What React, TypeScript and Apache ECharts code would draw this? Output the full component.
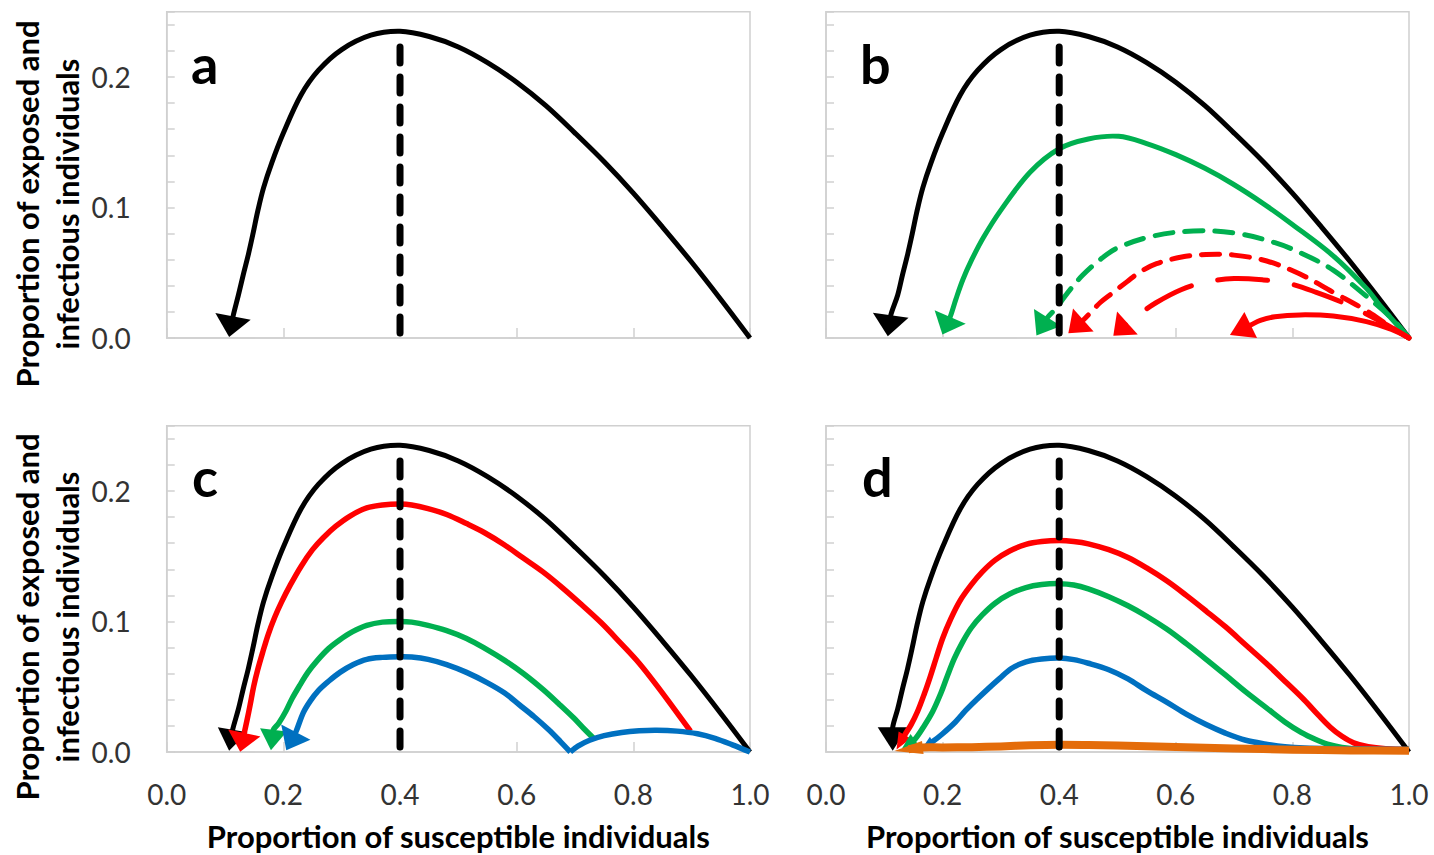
import React, { useEffect, useRef } from 'react';
import * as echarts from 'echarts';

type Pt = [number, number];

// ---------- data (S = proportion susceptible, E+I = proportion exposed+infectious) ----------
const panelLetters = ['a', 'b', 'c', 'd'];
const thresholdLine: Pt[] = [[0.4, 0.223], [0.4, -0.002]];

// baseline epidemic body (shared); each panel adds its own [arrow base, arrow tip]
const blackBody: Pt[] = [[1.0, 0], [0.95, 0.0295], [0.9, 0.058], [0.85, 0.085], [0.8, 0.111], [0.75, 0.135], [0.7, 0.157], [0.65, 0.178], [0.6, 0.196], [0.55, 0.211], [0.5, 0.223], [0.45, 0.231], [0.4, 0.235], [0.35, 0.232], [0.3, 0.221], [0.26, 0.205], [0.23, 0.186], [0.2, 0.157], [0.18, 0.134], [0.166, 0.115], [0.156, 0.097], [0.148, 0.08], [0.14, 0.064], [0.131, 0.048], [0.123, 0.033]];
const blackEndA: Pt[] = [[0.1137, 0.0165], [0.107, 0.0008]];
const blackEndB: Pt[] = [[0.111, 0.0174], [0.106, 0.0013]];
const blackEndC: Pt[] = [[0.113, 0.017], [0.107, 0.001]];
const blackEndD: Pt[] = [[0.1144, 0.0189], [0.1144, 0.001]];

// panel b
const greenSolidB: Pt[] = [[1.0, 0], [0.95, 0.025], [0.927, 0.038], [0.87, 0.063], [0.8, 0.087], [0.75, 0.103], [0.698, 0.118], [0.65, 0.13], [0.6, 0.1405], [0.55, 0.149], [0.502, 0.1545], [0.45, 0.1525], [0.4, 0.145], [0.35, 0.127], [0.3, 0.098], [0.27, 0.077], [0.25, 0.06], [0.235, 0.045], [0.223, 0.03], [0.213, 0.0161], [0.1997, 0.0026]];
const greenDashB: Pt[] = [[1.0, 0], [0.973, 0.014], [0.927, 0.032], [0.87, 0.052], [0.82, 0.064], [0.77, 0.073], [0.7, 0.0805], [0.63, 0.082], [0.56, 0.078], [0.5, 0.069], [0.47, 0.06], [0.44, 0.048], [0.415, 0.035], [0.395, 0.023], [0.38, 0.0157], [0.361, 0.002]];
const redDashB: Pt[] = [[1.0, 0], [0.967, 0.009], [0.927, 0.021], [0.87, 0.035], [0.813, 0.049], [0.756, 0.059], [0.7, 0.0635], [0.652, 0.064], [0.61, 0.062], [0.567, 0.057], [0.54, 0.051], [0.516, 0.043], [0.49, 0.034], [0.47, 0.027], [0.455, 0.02], [0.4414, 0.0138], [0.4157, 0.0036]];
const redLongDashB: Pt[] = [[1.0, 0], [0.95, 0.013], [0.887, 0.027], [0.841, 0.035], [0.792, 0.042], [0.75, 0.0445], [0.7, 0.0455], [0.652, 0.043], [0.609, 0.037], [0.566, 0.027], [0.535, 0.0175], [0.517, 0.0115], [0.4928, 0.0018]];
const redSolidB: Pt[] = [[1.0, 0], [0.97, 0.0065], [0.927, 0.0125], [0.87, 0.0168], [0.813, 0.0177], [0.77, 0.0163], [0.745, 0.0135], [0.7285, 0.01], [0.6929, 0.0023]];

// panel c
const redC: Pt[] = [[0.898, 0.016], [0.87, 0.033], [0.84, 0.051], [0.81, 0.068], [0.777, 0.084], [0.745, 0.099], [0.711, 0.113], [0.678, 0.126], [0.645, 0.138], [0.61, 0.149], [0.578, 0.159], [0.545, 0.168], [0.514, 0.175], [0.48, 0.182], [0.448, 0.1865], [0.42, 0.1893], [0.4, 0.19], [0.37, 0.1893], [0.343, 0.187], [0.315, 0.181], [0.29, 0.173], [0.268, 0.164], [0.25, 0.155], [0.23, 0.142], [0.212, 0.128], [0.197, 0.115], [0.185, 0.103], [0.174, 0.09], [0.165, 0.077], [0.156, 0.063], [0.149, 0.05], [0.143, 0.036], [0.138, 0.025], [0.133, 0.0146], [0.126, 0.0002]];
const greenC: Pt[] = [[0.733, 0.01], [0.715, 0.018], [0.698, 0.026], [0.672, 0.037], [0.645, 0.048], [0.612, 0.06], [0.58, 0.07], [0.547, 0.079], [0.514, 0.087], [0.48, 0.093], [0.448, 0.097], [0.42, 0.0995], [0.4, 0.1], [0.37, 0.0995], [0.343, 0.097], [0.318, 0.092], [0.297, 0.086], [0.277, 0.079], [0.258, 0.07], [0.242, 0.061], [0.228, 0.051], [0.215, 0.041], [0.204, 0.031], [0.192, 0.022], [0.183, 0.017], [0.1787, 0.0013]];
const blueBumpC: Pt[] = [[1.0, 0.0], [0.97, 0.0055], [0.94, 0.0105], [0.91, 0.014], [0.875, 0.016], [0.84, 0.0167], [0.81, 0.0163], [0.78, 0.015], [0.75, 0.0125], [0.725, 0.009], [0.705, 0.0045], [0.692, 0.0]];
const blueC: Pt[] = [[0.692, 0.0], [0.675, 0.008], [0.655, 0.017], [0.63, 0.027], [0.605, 0.036], [0.58, 0.045], [0.55, 0.053], [0.514, 0.061], [0.48, 0.067], [0.448, 0.071], [0.42, 0.0728], [0.4, 0.073], [0.37, 0.0725], [0.343, 0.071], [0.32, 0.067], [0.297, 0.061], [0.277, 0.054], [0.26, 0.047], [0.246, 0.039], [0.234, 0.03], [0.2214, 0.0153], [0.205, 0.0013]];

// panel d
const redD: Pt[] = [[1.0, 0.002], [0.96, 0.0025], [0.93, 0.004], [0.905, 0.007], [0.885, 0.012], [0.865, 0.019], [0.845, 0.028], [0.82, 0.04], [0.79, 0.053], [0.755, 0.068], [0.72, 0.082], [0.685, 0.096], [0.652, 0.108], [0.618, 0.12], [0.585, 0.131], [0.55, 0.141], [0.518, 0.149], [0.485, 0.155], [0.45, 0.1595], [0.425, 0.1613], [0.4, 0.162], [0.37, 0.1612], [0.343, 0.159], [0.315, 0.154], [0.29, 0.147], [0.268, 0.138], [0.249, 0.128], [0.23, 0.116], [0.214, 0.102], [0.2, 0.087], [0.189, 0.072], [0.179, 0.058], [0.169, 0.045], [0.157, 0.031], [0.146, 0.021], [0.135, 0.013], [0.121, 0.002]];
const greenD: Pt[] = [[1.0, 0.002], [0.92, 0.002], [0.885, 0.0035], [0.86, 0.006], [0.84, 0.0095], [0.815, 0.015], [0.787, 0.023], [0.755, 0.034], [0.72, 0.046], [0.685, 0.059], [0.652, 0.071], [0.618, 0.083], [0.585, 0.094], [0.55, 0.104], [0.518, 0.112], [0.485, 0.119], [0.45, 0.125], [0.425, 0.128], [0.4, 0.129], [0.37, 0.1283], [0.343, 0.126], [0.315, 0.121], [0.29, 0.114], [0.268, 0.105], [0.249, 0.095], [0.234, 0.084], [0.22, 0.0715], [0.208, 0.058], [0.197, 0.045], [0.183, 0.031], [0.167, 0.019], [0.152, 0.0095], [0.13, 0.0025]];
const blueD: Pt[] = [[1.0, 0.002], [0.88, 0.0025], [0.82, 0.003], [0.787, 0.004], [0.755, 0.006], [0.72, 0.009], [0.685, 0.0145], [0.652, 0.021], [0.618, 0.029], [0.585, 0.038], [0.55, 0.047], [0.518, 0.056], [0.485, 0.063], [0.45, 0.068], [0.425, 0.0708], [0.4, 0.072], [0.37, 0.0712], [0.343, 0.069], [0.318, 0.064], [0.297, 0.056], [0.277, 0.048], [0.258, 0.04], [0.24, 0.032], [0.222, 0.023], [0.2, 0.014], [0.183, 0.008], [0.166, 0.0036]];
const orangeD: Pt[] = [[1.0, 0.001], [0.9, 0.0012], [0.8, 0.0018], [0.7, 0.0027], [0.6, 0.0038], [0.5, 0.0049], [0.45, 0.0053], [0.4, 0.0055], [0.35, 0.0051], [0.3, 0.0043], [0.25, 0.0037], [0.2, 0.0035], [0.166, 0.0035], [0.117, 0.0008]];

// ---------- styling ----------
const C = { black: '#000000', red: '#FF0000', green: '#00B050', blue: '#0070C0', orange: '#E46C0A' };
const AXIS_GRAY = '#d0d0d0';
const FONT = 'Lato';
const Y_MAX = 0.25;

const GRIDS = [
  { left: 166.7, top: 11.7, width: 583.3, height: 326.3 },
  { left: 826, top: 11.7, width: 583, height: 326.3 },
  { left: 166.7, top: 425.7, width: 583.3, height: 326.3 },
  { left: 826, top: 425.7, width: 583, height: 326.3 },
];

// curve: when headW is given, the data ends with [arrow base, arrow tip]
type Curve = { data: Pt[]; color: string; width: number; dash?: number[]; headW?: number };

const SHORT_DASH = [18, 12];
const LONG_DASH = [50, 27];

const PANELS: Curve[][] = [
  [{ data: blackBody.concat(blackEndA), color: C.black, width: 5, headW: 36 }],
  [
    { data: blackBody.concat(blackEndB), color: C.black, width: 5, headW: 36 },
    { data: greenSolidB, color: C.green, width: 5, headW: 34 },
    { data: greenDashB, color: C.green, width: 5, dash: SHORT_DASH, headW: 32 },
    { data: redDashB, color: C.red, width: 5, dash: SHORT_DASH, headW: 31 },
    { data: redLongDashB, color: C.red, width: 5, dash: LONG_DASH, headW: 31 },
    { data: redSolidB, color: C.red, width: 5, headW: 29 },
  ],
  [
    { data: blackBody.concat(blackEndC), color: C.black, width: 5, headW: 30 },
    { data: redC, color: C.red, width: 5.5, headW: 33 },
    { data: greenC, color: C.green, width: 5.5, headW: 27 },
    { data: blueBumpC, color: C.blue, width: 5.5 },
    { data: blueC, color: C.blue, width: 5.5, headW: 33 },
  ],
  [
    { data: blackBody.concat(blackEndD), color: C.black, width: 5, headW: 30 },
    { data: redD, color: C.red, width: 5.5, headW: 14 },
    { data: greenD, color: C.green, width: 5.5, headW: 14 },
    { data: blueD, color: C.blue, width: 5.5, headW: 11 },
    { data: orangeD, color: C.orange, width: 8, headW: 13 },
  ],
];

function curveSeries(c: Curve, p: number, z: number) {
  const data = c.data;
  return {
    type: 'custom',
    xAxisIndex: p,
    yAxisIndex: p,
    silent: true,
    z,
    data,
    renderItem: (params: any, api: any) => {
      if (params.dataIndex !== 0) return null;
      let linePts: Pt[] = data;
      const children: any[] = [];
      if (c.headW) {
        const tip = data[data.length - 1];
        const base = data[data.length - 2];
        const mid: Pt = [(tip[0] + base[0]) / 2, (tip[1] + base[1]) / 2];
        linePts = data.slice(0, -1).concat([mid]);
        const t = api.coord(tip);
        const b = api.coord(base);
        const dx = t[0] - b[0];
        const dy = t[1] - b[1];
        const L = Math.hypot(dx, dy) || 1;
        const nx = -dy / L;
        const ny = dx / L;
        const hw = c.headW / 2;
        children.push({
          type: 'polygon',
          z2: 2,
          shape: {
            points: [
              [t[0], t[1]],
              [b[0] + nx * hw, b[1] + ny * hw],
              [b[0] - nx * hw, b[1] - ny * hw],
            ],
          },
          style: { fill: c.color, stroke: null },
        });
      }
      const px = linePts.map((d) => api.coord(d));
      children.unshift({
        type: 'polyline',
        z2: 1,
        shape: { points: px, smooth: 0.35 },
        style: {
          fill: null,
          stroke: c.color,
          lineWidth: c.width,
          lineDash: c.dash ? c.dash : null,
          lineCap: c.dash ? 'round' : 'butt',
          lineJoin: 'round',
        },
      });
      return { type: 'group', children };
    },
  };
}

function buildOption() {
  const series: any[] = [];
  PANELS.forEach((curves, p) => {
    curves.forEach((c, i) => series.push(curveSeries(c, p, 3 + i)));
    series.push({
      type: 'line',
      xAxisIndex: p,
      yAxisIndex: p,
      data: thresholdLine,
      symbol: 'none',
      clip: false,
      silent: true,
      z: 30,
      lineStyle: { color: '#000', width: 7, type: [16, 14], cap: 'round' },
    });
  });

  const xAxis = GRIDS.map((_, p) => ({
    gridIndex: p,
    type: 'value',
    min: 0,
    max: 1,
    interval: 0.2,
    axisLine: { show: true, lineStyle: { color: AXIS_GRAY, width: 1.5 } },
    axisTick: { show: true, inside: true, length: 10, lineStyle: { color: AXIS_GRAY, width: 1.5 } },
    axisLabel: {
      show: p >= 2,
      margin: 28,
      fontSize: 28,
      fontFamily: FONT,
      color: '#333',
      formatter: (v: number) => v.toFixed(1),
    },
    splitLine: { show: false },
  }));

  const yAxis = GRIDS.map((_, p) => ({
    gridIndex: p,
    type: 'value',
    min: 0,
    max: Y_MAX,
    interval: 0.02,
    axisLine: { show: true, lineStyle: { color: AXIS_GRAY, width: 1.5 } },
    axisTick: { show: true, inside: true, length: 8, lineStyle: { color: AXIS_GRAY, width: 1.5 } },
    axisLabel: {
      show: p % 2 === 0,
      margin: 36,
      fontSize: 28,
      fontFamily: FONT,
      color: '#333',
      formatter: (v: number) => (Math.abs(v * 10 - Math.round(v * 10)) < 1e-6 && v <= 0.2 + 1e-9 ? v.toFixed(1) : ''),
    },
    splitLine: { show: false },
  }));

  const grid = GRIDS.map((g) => ({
    ...g,
    show: true,
    borderColor: AXIS_GRAY,
    borderWidth: 1.5,
    backgroundColor: 'transparent',
    containLabel: false,
  }));

  const letterPos = [
    [191, 80],
    [860, 80],
    [192, 493],
    [862, 493],
  ];
  const graphic: any[] = [];
  panelLetters.forEach((l, i) => {
    graphic.push({
      type: 'text',
      x: letterPos[i][0],
      y: letterPos[i][1] - 17,
      style: { text: l, font: `bold 54px ${FONT}`, fill: '#000', textAlign: 'left', textVerticalAlign: 'middle' },
      z: 50,
    });
  });
  const yTitle = 'Proportion of exposed and\ninfectious individuals';
  [204, 617].forEach((cy) => {
    graphic.push({
      type: 'text',
      x: 47,
      y: cy,
      rotation: Math.PI / 2,
      style: {
        text: yTitle,
        font: `bold 31px ${FONT}`,
        fill: '#000',
        textAlign: 'center',
        textVerticalAlign: 'middle',
        lineHeight: 40,
      },
    });
  });
  [GRIDS[2], GRIDS[3]].forEach((g) => {
    graphic.push({
      type: 'text',
      x: g.left + g.width / 2,
      y: 836,
      style: {
        text: 'Proportion of susceptible individuals',
        font: `bold 31px ${FONT}`,
        lineHeight: 31,
        fill: '#000',
        textAlign: 'center',
        textVerticalAlign: 'middle',
      },
    });
  });

  return {
    animation: false,
    backgroundColor: '#ffffff',
    grid,
    xAxis,
    yAxis,
    series,
    graphic,
  };
}

export default function App() {
  const ref = useRef<HTMLDivElement>(null);
  useEffect(() => {
    if (!ref.current) return;
    const chart = echarts.init(ref.current, undefined, { renderer: 'svg' });
    chart.setOption(buildOption() as any);
    return () => chart.dispose();
  }, []);
  return (
    <div
      ref={ref}
      style={{ position: 'fixed', left: 0, top: 0, width: 1434, height: 855, background: '#fff' }}
    />
  );
}
